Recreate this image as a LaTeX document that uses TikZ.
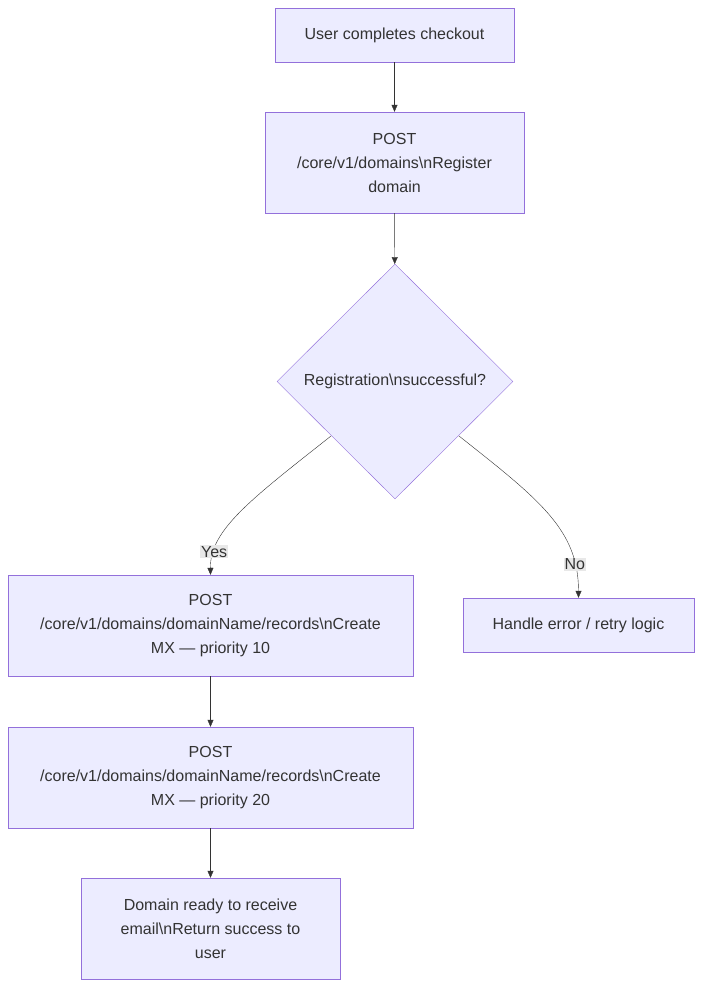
\documentclass[tikz,border=0pt]{standalone}
\usepackage{fontspec}
\setmainfont{Liberation Sans}
\usetikzlibrary{shapes.geometric, arrows.meta, positioning}

\definecolor{boxfill}{HTML}{ECECFF}
\definecolor{boxline}{HTML}{9370DB}
\definecolor{ink}{HTML}{333333}
\definecolor{labelbg}{HTML}{E8E8E8}

\tikzset{
  stage/.style={draw=boxline, fill=boxfill, text=ink, align=center,
    font=\fontsize{16}{24}\selectfont, inner sep=0pt},
  check/.style={stage, diamond, minimum width=236pt, minimum height=235pt},
  flow/.style={draw=ink, -{Triangle[length=7pt,width=6pt]}},
  tag/.style={fill=labelbg, text=ink, font=\fontsize{16}{20}\selectfont, inner sep=1pt}
}

\begin{document}
\begin{tikzpicture}[x=1pt, y=-1pt]
            \useasboundingbox (0,0) rectangle (703,988);

            % steps of the flow
            \node[stage, minimum width=239pt, minimum height=54pt] (checkout) at (394.5,35) {User completes checkout};
            \node[stage, minimum width=259pt, minimum height=101pt] (register) at (394.5,162.5) {POST\\/core/v1/domains\textbackslash nRegister\\domain};
            \node[check] (ok) at (395,381.5) {Registration\textbackslash nsuccessful?};
            \node[stage, minimum width=405pt, minimum height=101pt] (mxten) at (210.5,625.5) {POST\\/core/v1/domains/domainName/records\textbackslash nCreate\\MX — priority 10};
            \node[stage, minimum width=231pt, minimum height=54pt] (retry) at (578.5,625) {Handle error / retry logic};
            \node[stage, minimum width=405pt, minimum height=101pt] (mxtwenty) at (210.5,777.5) {POST\\/core/v1/domains/domainName/records\textbackslash nCreate\\MX — priority 20};
            \node[stage, minimum width=259pt, minimum height=101pt] (ready) at (210.5,928.5) {Domain ready to receive\\email\textbackslash nReturn success to\\user};

            % connectors
            \draw[flow] (checkout) -- (register);
            \draw[flow] (register) -- (ok);
            \coordinate (yesout) at (331,436);
            \coordinate (noout) at (459,436);
            \draw[flow] (yesout) .. controls (250,500) and (210,530) .. (mxten.north) node[tag, pos=0.82] {Yes};
            \draw[flow] (noout) .. controls (540,500) and (578.5,530) .. (retry.north) node[tag, pos=0.82] {No};
            \draw[flow] (mxten) -- (mxtwenty);
            \draw[flow] (mxtwenty) -- (ready);
\end{tikzpicture}
\end{document}
